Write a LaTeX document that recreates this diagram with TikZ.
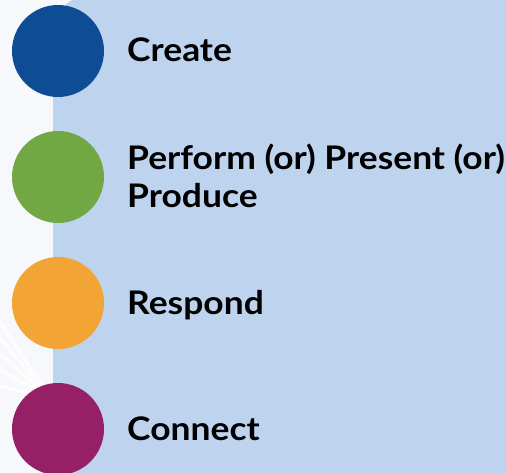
\documentclass[tikz,border=0pt]{standalone}
\usepackage{fontspec}
\setmainfont{Lato}[UprightFont=* Bold,FakeStretch=1.09]
\definecolor{pagegray}{HTML}{F6F8FB}
\definecolor{panelblue}{HTML}{BED4EE}
\definecolor{dotblue}{HTML}{0E4C93}
\definecolor{dotgreen}{HTML}{72A844}
\definecolor{dotorange}{HTML}{F2A535}
\definecolor{dotpurple}{HTML}{952066}
\begin{document}
\begin{tikzpicture}[x=1pt,y=-1pt,line join=round,line cap=round,
		dot/.style={circle,minimum size=92pt,inner sep=0pt},
		label/.style={anchor=base west,font=\fontsize{32.5}{38}\selectfont,align=left,inner sep=0pt}]
	\def\xmax{506}
	\def\ymax{473}
	\useasboundingbox (0,0) rectangle (\xmax,\ymax);
	\fill [pagegray] (0,0) rectangle (\xmax,\ymax);
	% faint rays behind the lower dots
	\foreach \y in {322,338,354,370,386} \draw [white, line width=3.5pt, opacity=.8] (50,398) -- (0,\y);
	\clip (0,0) rectangle (\xmax,\ymax);
	\fill [panelblue, rounded corners=38pt] (53,-5) rectangle (\xmax+40,\ymax+40);
	% the four dots and their words
	\node [dot, fill=dotblue] (create) at (58,51) {};
	\node [dot, fill=dotgreen] (perform) at (58,177) {};
	\node [dot, fill=dotorange] (respond) at (58,303) {};
	\node [dot, fill=dotpurple] (connect) at (58,429) {};
	\node [label] (createtext) at (127,62) {Create};
	\node [label] (performtext) at (127,208) {Perform (or) Present (or)\\Produce};
	\node [label] (respondtext) at (127,314) {Respond};
	\node [label] (connecttext) at (127,440) {Connect};
\end{tikzpicture}
\end{document}
